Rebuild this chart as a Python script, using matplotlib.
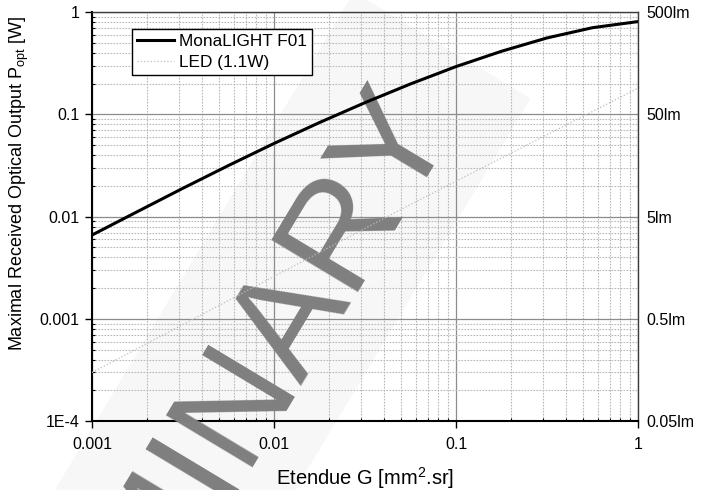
import numpy as np
import matplotlib
matplotlib.use("Agg")
import matplotlib.pyplot as plt
from matplotlib.patches import Polygon
from matplotlib.transforms import Affine2D
from matplotlib.ticker import LogLocator, NullFormatter, NullLocator

plt.rcParams['font.family'] = ['Liberation Sans', 'DejaVu Sans']
plt.rcParams['mathtext.default'] = 'regular'

# MonaLIGHT F01 curve
etendue = [0.001, 0.00178, 0.00316, 0.00562, 0.01, 0.0178, 0.0316, 0.0562,
           0.1, 0.178, 0.316, 0.562, 1.0]
p_opt = [0.00661, 0.01122, 0.01895, 0.0316, 0.0519, 0.0832, 0.130, 0.198,
         0.2928, 0.4135, 0.5577, 0.7023, 0.806]

# LED (1.1W) reference line
led_x = [0.001, 0.05, 1.0]
led_y = [0.0003, 0.0118, 0.18]

x_ticks = [0.001, 0.01, 0.1, 1]
x_labels = ['0.001', '0.01', '0.1', '1']
y_ticks = [1e-4, 1e-3, 1e-2, 1e-1, 1]
y_labels = ['1E-4', '0.001', '0.01', '0.1', '1']
lm_ticks = [0.05, 0.5, 5, 50, 500]
lm_labels = ['0.05lm', '0.5lm', '5lm', '50lm', '500lm']

fig = plt.figure(figsize=(7.14, 4.90), dpi=100)
ax = fig.add_axes([92 / 714, 1 - 421.3 / 490, 546 / 714, 409.3 / 490])

ax.plot(etendue, p_opt, color='black', lw=2.2, zorder=4, label='MonaLIGHT F01')
ax.plot(led_x, led_y, color='#bdbdbd', lw=0.9, ls=':', zorder=4, label='LED (1.1W)')

ax.set_xscale('log')
ax.set_yscale('log')
ax.set_xlim(0.001, 1)
ax.set_ylim(1e-4, 1)
ax.set_xticks(x_ticks, x_labels)
ax.set_yticks(y_ticks, y_labels)
ax.xaxis.set_minor_locator(LogLocator(base=10, subs=np.arange(2, 10)))
ax.yaxis.set_minor_locator(LogLocator(base=10, subs=np.arange(2, 10)))
ax.xaxis.set_minor_formatter(NullFormatter())
ax.yaxis.set_minor_formatter(NullFormatter())

ax.grid(which='major', color='#8c8c8c', lw=0.9, ls='-')
ax.grid(which='minor', color='#b8b8b8', lw=0.8, ls=(0, (1.5, 1.2)))

ax.tick_params(which='major', direction='out', length=5, width=1, labelsize=11.5, pad=4,
               top=False, right=False)
ax.tick_params(which='minor', direction='in', length=2.2, width=0.8, top=False, right=False)
ax.tick_params(axis='x', which='major', pad=6)

for s in ['left', 'bottom']:
    ax.spines[s].set_linewidth(1.5)
    ax.spines[s].set_color('black')
for s in ['top', 'right']:
    ax.spines[s].set_linewidth(1.0)
    ax.spines[s].set_color('#3c3c3c')

sec = ax.secondary_yaxis('right', functions=(lambda w: w * 500, lambda l: l / 500))
sec.set_yticks(lm_ticks, lm_labels)
sec.yaxis.set_minor_locator(NullLocator())
sec.tick_params(length=0, labelsize=11.5, pad=6)
sec.spines['right'].set_visible(False)

ax.set_xlabel('Etendue G [mm$^2$.sr]', fontsize=14.5, labelpad=10)
ax.set_ylabel('Maximal Received Optical Output P$_{opt}$ [W]', fontsize=13)
ax.yaxis.set_label_coords(-0.112, 0.582)

leg = ax.legend(loc='upper left', bbox_to_anchor=(0.0727, 0.958), borderaxespad=0,
                fontsize=12.4, frameon=True, fancybox=False, framealpha=1,
                handlelength=2.15, handletextpad=0.31, labelspacing=0.3, borderpad=0.3)
leg.get_frame().set_edgecolor('black')
leg.get_frame().set_linewidth(1.0)
leg.set_zorder(6)

# watermark: light band and big rotated letters, in pixel space
band_anchor = (457, 490 - 131.3)
rot = Affine2D().rotate_deg(59).translate(*band_anchor).scale(1 / 100) + fig.dpi_scale_trans
band = Polygon([(-1300, -46), (66, -46), (66, 160), (-1300, 160)], closed=True,
               transform=rot, facecolor='#f7f7f7', edgecolor='none', zorder=0.5, clip_on=False)
ax.add_artist(band)
text_anchor = (452, 490 - 118)
ax.text(text_anchor[0] / 714, text_anchor[1] / 490, 'PRELIMINARY', transform=fig.transFigure,
        rotation=59, rotation_mode='anchor', ha='right', va='baseline',
        fontsize=106, color='#7f7f7f', zorder=2.6, clip_on=False)

fig.savefig('out.png', dpi=100)
